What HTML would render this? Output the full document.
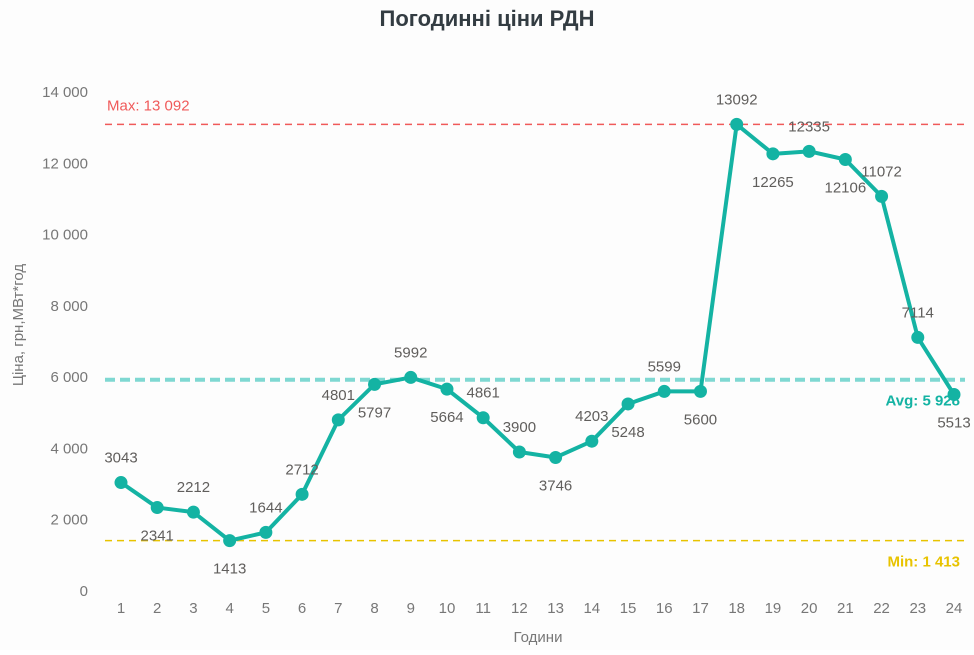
<!DOCTYPE html>
<html><head><meta charset="utf-8"><style>
body{margin:0;background:#fff;}
svg text{font-family:"Liberation Sans","DejaVu Sans",sans-serif;}
</style></head><body>
<svg id="chart" width="974" height="650" xmlns="http://www.w3.org/2000/svg">
<rect width="974" height="650" fill="#fdfdfd"/>
<text x="487" y="26" text-anchor="middle" font-size="22" font-weight="bold" fill="#333c42">Погодинні ціни РДН</text>
<text transform="translate(23,325) rotate(-90)" text-anchor="middle" font-size="15" fill="#777">Ціна, грн,МВт*год</text>
<text x="538" y="642" text-anchor="middle" font-size="15" fill="#777">Години</text>
<g id="yticks"></g><g id="xticks"></g><g id="refs"></g><g id="series"></g><g id="labels"></g>
</svg>
<script>
const hours=[1,2,3,4,5,6,7,8,9,10,11,12,13,14,15,16,17,18,19,20,21,22,23,24];
const prices=[3043,2341,2212,1413,1644,2712,4801,5797,5992,5664,4861,3900,3746,4203,5248,5599,5600,13092,12265,12335,12106,11072,7114,5513];
const labelSide=['a','b','a','b','a','a','a','b','a','b','a','a','b','a','b','a','b','a','b','a','b','a','a','b'];
const yTicks=[0,2000,4000,6000,8000,10000,12000,14000];
const maxVal=13092, minVal=1413, avgVal=5928;
const NS='http://www.w3.org/2000/svg';
const x=h=>121+(h-1)*(954-121)/23;
const y=v=>591-v*(591-92)/14000;
const fmt=v=>String(v).replace(/\B(?=(\d{3})+(?!\d))/g,' ');
function mk(tag,attrs,parent,txt){const e=document.createElementNS(NS,tag);for(const k in attrs)e.setAttribute(k,attrs[k]);if(txt!==undefined)e.textContent=txt;parent.appendChild(e);return e;}
const yt=document.getElementById('yticks');
yTicks.forEach(v=>{const t=mk('text',{x:88,y:y(v)+5,'text-anchor':'end','font-size':15,fill:'#777'},yt,fmt(v));

});
const xt=document.getElementById('xticks');
hours.forEach(h=>{const t=mk('text',{x:x(h),y:613,'text-anchor':'middle','font-size':15,fill:'#777'},xt,h);

});
const r=document.getElementById('refs');
let l=mk('line',{x1:105,x2:965,y1:y(maxVal),y2:y(maxVal),stroke:'#f05a5a','stroke-width':1.5,'stroke-dasharray':'7,5'},r);


l=mk('line',{x1:105,x2:965,y1:y(minVal),y2:y(minVal),stroke:'#e8c300','stroke-width':1.5,'stroke-dasharray':'7,5'},r);


l=mk('line',{x1:105,x2:965,y1:y(avgVal),y2:y(avgVal),stroke:'#7fd8d2','stroke-width':4,'stroke-dasharray':'10,5'},r);


let t=mk('text',{x:107,y:y(maxVal)-14,'font-size':15,fill:'#f05a5a'},r,'Max: '+fmt(maxVal));


t=mk('text',{x:960,y:y(minVal)+26,'text-anchor':'end','font-size':15,'font-weight':'bold',fill:'#e8c300'},r,'Min: '+fmt(minVal));


t=mk('text',{x:960,y:y(avgVal)+26,'text-anchor':'end','font-size':15,'font-weight':'bold',fill:'#14b3a3'},r,'Avg: '+fmt(avgVal));


const s=document.getElementById('series');
const p=mk('polyline',{points:hours.map((h,i)=>x(h)+','+y(prices[i])).join(' '),fill:'none',stroke:'#14b3a3','stroke-width':4,'stroke-linejoin':'round'},s);


const lb=document.getElementById('labels');
hours.forEach((h,i)=>{const c=mk('circle',{cx:x(h),cy:y(prices[i]),r:6.5,fill:'#14b3a3'},s);


const dy=labelSide[i]==='a'?-20:33;
const tt=mk('text',{x:x(h),y:y(prices[i])+dy,'text-anchor':'middle','font-size':15,fill:'#605e5c'},lb,prices[i]);

});
</script>
</body></html>
